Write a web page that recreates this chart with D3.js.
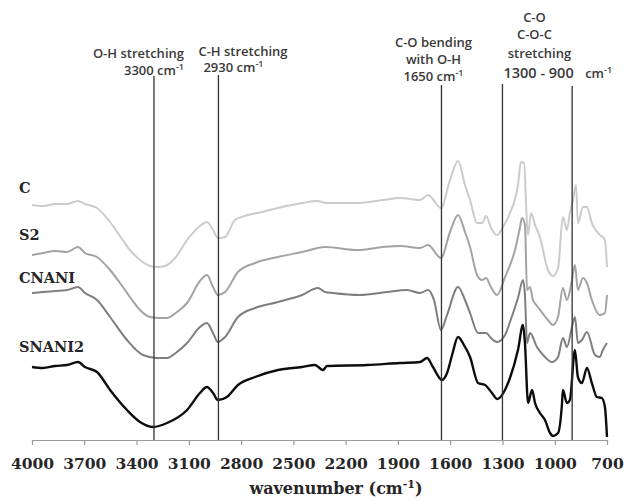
<!DOCTYPE html>
<html>
<head>
<meta charset="utf-8">
<script src="https://cdn.jsdelivr.net/npm/d3@7"></script>
<style>
    body { margin: 0; background: #fff; }
    .note { font-family: "Open Sans", sans-serif; font-size: 13px; font-weight: 600; fill: #3a3a3a; }
    .seriesLabel { font-family: "DejaVu Serif", serif; font-size: 14.5px; font-weight: bold; fill: #262626; }
    .xAxis text { font-family: "DejaVu Serif", serif; font-size: 15.5px; font-weight: bold; fill: #262626; }
    .xLabel { font-family: "DejaVu Serif", serif; font-size: 16px; font-weight: bold; fill: #262626; }
</style>
</head>
<body>
<div id="ftir_chart"></div>
<script>
// =============================================================================
// data
// =============================================================================

// x ticks (wavenumber, cm-1) ==================================================
var wavenumberTicks = [4000, 3700, 3400, 3100, 2800, 2500, 2200, 1900, 1600, 1300, 1000, 700];

// spectra: [wavenumber, transmittance (a.u., stacked)] ========================
var spectrumC = [
    [4000, 235], [3937, 234], [3868, 236], [3799, 236], [3736, 239], [3696, 236], [3627, 232],
    [3552, 218], [3495, 204], [3438, 190], [3380, 180], [3323, 174], [3283, 173], [3237, 174],
    [3179, 182], [3110, 200], [3036, 214], [2996, 218], [2961, 210], [2933, 202], [2892, 203],
    [2835, 220], [2760, 225], [2680, 228], [2565, 233], [2450, 237], [2364, 239], [2307, 237],
    [2135, 237], [1986, 240], [1888, 242], [1773, 240], [1727, 245], [1653, 232], [1601, 260],
    [1555, 279], [1515, 255], [1486, 240], [1446, 217], [1417, 217], [1394, 224], [1366, 212],
    [1331, 205], [1297, 213], [1257, 227], [1211, 255], [1194, 278], [1176, 277], [1159, 215],
    [1153, 205], [1136, 227], [1113, 215], [1085, 203], [1039, 170], [1010, 164], [981, 172],
    [953, 223], [930, 210], [913, 227], [895, 240], [878, 255], [867, 217], [838, 233],
    [815, 233], [787, 217], [741, 205], [724, 203], [712, 200], [700, 173]
];

var spectrumS2 = [
    [4000, 185], [3937, 187], [3868, 189], [3799, 188], [3736, 193], [3696, 187], [3627, 183],
    [3552, 170], [3495, 157], [3438, 143], [3380, 130], [3323, 123], [3265, 122], [3225, 122],
    [3168, 128], [3110, 137], [3036, 159], [2996, 165], [2961, 153], [2933, 145], [2892, 148],
    [2818, 168], [2720, 177], [2588, 183], [2450, 188], [2318, 193], [2135, 190], [1986, 193],
    [1888, 194], [1773, 192], [1727, 195], [1653, 182], [1601, 208], [1555, 225], [1515, 208],
    [1486, 193], [1446, 165], [1417, 160], [1394, 162], [1366, 153], [1331, 145], [1285, 163],
    [1228, 190], [1200, 212], [1188, 222], [1171, 215], [1159, 150], [1142, 153], [1125, 140],
    [1096, 133], [1039, 120], [1010, 115], [981, 123], [953, 152], [930, 140], [901, 160],
    [884, 175], [867, 150], [838, 162], [815, 157], [787, 140], [741, 125], [712, 127], [700, 145]
];

var spectrumCNANI = [
    [4000, 147], [3937, 148], [3868, 149], [3799, 150], [3736, 153], [3696, 147], [3627, 140],
    [3552, 123], [3455, 100], [3363, 85], [3283, 82], [3225, 82], [3168, 88], [3110, 97],
    [3036, 113], [2996, 117], [2961, 107], [2933, 98], [2892, 103], [2818, 123], [2720, 132],
    [2588, 138], [2450, 145], [2359, 152], [2318, 148], [2273, 147], [2118, 145], [1963, 148],
    [1848, 150], [1773, 147], [1727, 150], [1693, 140], [1653, 110], [1618, 125], [1555, 153],
    [1515, 140], [1486, 127], [1440, 107], [1394, 107], [1366, 102], [1331, 98], [1285, 105],
    [1257, 118], [1211, 142], [1182, 160], [1171, 145], [1159, 97], [1142, 107], [1102, 93],
    [1056, 83], [1016, 78], [981, 83], [953, 102], [930, 93], [901, 113], [884, 123],
    [867, 97], [844, 100], [815, 108], [769, 85], [741, 83], [724, 90], [700, 97]
];

var spectrumSNANI2 = [
    [4000, 73], [3937, 72], [3868, 74], [3799, 75], [3736, 78], [3696, 73], [3627, 68],
    [3552, 50], [3455, 30], [3380, 18], [3306, 13], [3225, 17], [3110, 30], [3036, 47],
    [2996, 53], [2961, 47], [2933, 40], [2881, 43], [2818, 55], [2720, 63], [2588, 70],
    [2450, 73], [2376, 75], [2330, 70], [2307, 74], [2077, 75], [1888, 77], [1773, 78],
    [1733, 82], [1699, 73], [1647, 60], [1618, 67], [1589, 85], [1555, 103], [1521, 95],
    [1486, 83], [1440, 57], [1400, 55], [1360, 47], [1331, 41], [1257, 62], [1211, 90],
    [1182, 115], [1171, 97], [1153, 37], [1130, 50], [1113, 37], [1085, 27], [1056, 20],
    [1027, 7], [1010, 4], [981, 7], [958, 37], [953, 50], [930, 37], [913, 40], [884, 90],
    [867, 63], [844, 57], [815, 72], [787, 57], [758, 43], [730, 42], [712, 33], [700, 3]
];

var seriesNames = ["C", "S2", "CNANI", "SNANI2"];
var seriesData = [spectrumC, spectrumS2, spectrumCNANI, spectrumSNANI2];

// band markers (wavenumber of the vertical line) ==============================
var bandWavenumbers = [3300, 2930, 1650, 1300, 900];

// =============================================================================
// UI
// =============================================================================
var width = 624, height = 501;
var _margin = { top: 40, right: 17, bottom: 61, left: 32 },
    _chartWidth = width - _margin.left - _margin.right,
    _chartHeight = height - _margin.top - _margin.bottom;

var seriesColors = ["#cbcbcb", "#a3a3a3", "#7e7e7e", "#0d0d0d"];
var seriesWidths = [2, 2, 2, 2.4];
var labelOffsets = [-12, -15, -10, -15];   // label baseline relative to first point
var bandTops = [364, 365, 355, 356, 354];   // where each marker line starts (y units)

var _svg = d3.select("#ftir_chart").append("svg")
    .attr("width", width)
    .attr("height", height);

var _chart = _svg.append("g")
    .attr("transform", "translate(" + _margin.left + "," + _margin.top + ")");

// X axis, reversed like an IR spectrum
var x = d3.scaleLinear()
    .domain([4000, 700])
    .range([0, _chartWidth]);

var y = d3.scaleLinear()
    .domain([0, 400])
    .range([_chartHeight, 0]);

var xAxis = _chart.append("g")
    .attr("class", "xAxis")
    .attr("transform", "translate(0," + _chartHeight + ")")
    .call(d3.axisBottom(x)
        .tickValues(wavenumberTicks)
        .tickFormat(d3.format("d"))
        .tickSize(5)
        .tickSizeOuter(0)
        .tickPadding(13));
xAxis.select(".domain").attr("stroke", "#9a9a9a").attr("stroke-width", 1.2);
xAxis.selectAll(".tick line").attr("stroke", "#9a9a9a").attr("stroke-width", 1.2);
xAxis.selectAll(".tick text").attr("font-family", null).attr("font-size", null);
xAxis.attr("font-family", null).attr("font-size", null);

// X axis label
var xLabel = _chart.append("text")
    .attr("class", "xLabel")
    .attr("text-anchor", "middle")
    .attr("x", 304)
    .attr("y", _chartHeight + 54);
xLabel.append("tspan").text("wavenumber (cm");
xLabel.append("tspan").attr("font-size", "11px").attr("dy", -6).text("-1");
xLabel.append("tspan").attr("dy", 6).text(")");

// spectra
var line = d3.line()
    .x(function (d) { return x(d[0]); })
    .y(function (d) { return y(d[1]); })
    .curve(d3.curveMonotoneX);

_chart.selectAll("path.spectrum")
    .data(seriesData)
    .enter()
    .append("path")
    .attr("class", "spectrum")
    .attr("fill", "none")
    .attr("stroke", function (d, i) { return seriesColors[i]; })
    .attr("stroke-width", function (d, i) { return seriesWidths[i]; })
    .attr("stroke-linejoin", "round")
    .attr("d", line);

// series labels on the left
_chart.selectAll("text.seriesLabel")
    .data(seriesNames)
    .enter()
    .append("text")
    .attr("class", "seriesLabel")
    .attr("x", -13)
    .attr("y", function (d, i) { return y(seriesData[i][0][1]) + labelOffsets[i]; })
    .text(function (d) { return d; });

// vertical band markers
_chart.selectAll("line.band")
    .data(bandWavenumbers)
    .enter()
    .append("line")
    .attr("class", "band")
    .attr("x1", function (d) { return x(d); })
    .attr("x2", function (d) { return x(d); })
    .attr("y1", function (d, i) { return y(bandTops[i]); })
    .attr("y2", _chartHeight)
    .attr("stroke", "#333")
    .attr("stroke-width", 1.3);

// =============================================================================
// annotations
// =============================================================================
function addNote(wn, dx, y0, anchor, lines) {
    var t = _svg.append("text")
        .attr("class", "note")
        .attr("text-anchor", anchor);
    lines.forEach(function (l, i) {
        var ts = t.append("tspan")
            .attr("x", _margin.left + x(wn) + dx)
            .attr("y", y0 + i * 17);
        if (l.size) ts.attr("font-size", l.size);
        ts.text(l.text);
        if (l.sup) {
            t.append("tspan").attr("font-size", "9px").attr("dy", -5).text(l.sup);
            t.append("tspan").attr("dy", 5).text("");
        }
    });
}

addNote(3300, 30, 58, "end", [
    { text: "O-H stretching" },
    { text: "3300 cm", sup: "-1" }
]);
addNote(2930, -20, 56, "start", [
    { text: "C-H stretching" }
]);
addNote(2930, -15, 72, "start", [
    { text: "2930 cm", sup: "-1" }
]);
addNote(1650, -8, 47, "middle", [
    { text: "C-O bending" },
    { text: "with O-H" },
    { text: "1650 cm", sup: "-1" }
]);
addNote(1300, 32, 22, "middle", [
    { text: "C-O" },
    { text: "C-O-C" }
]);
addNote(1300, 37, 58, "middle", [
    { text: "stretching" }
]);
addNote(1300, 1, 78, "start", [
    { text: "1300 - 900", size: "14.5px" }
]);
addNote(900, 13, 78, "start", [
    { text: "cm", sup: "-1" }
]);
</script>
</body>
</html>
